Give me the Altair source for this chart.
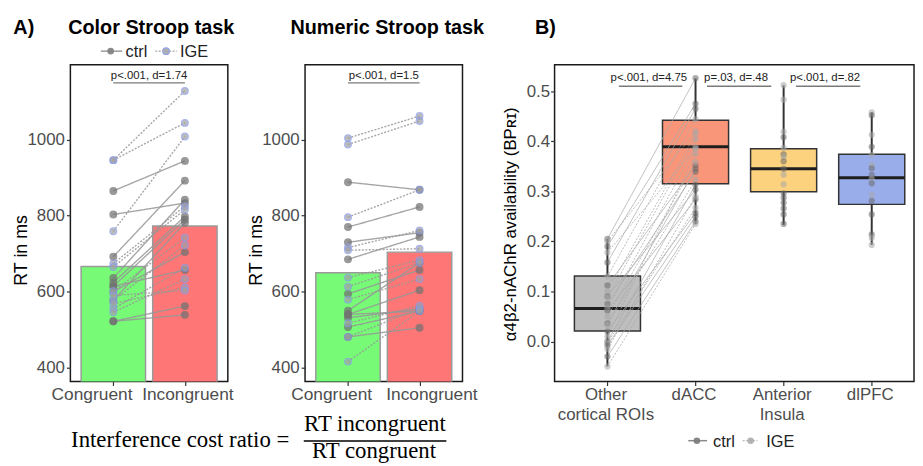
import json
import altair as alt
import pandas as pd

# ---------------- data : panel A ----------------
conds = ["Congruent", "Incongruent"]
groups = ["ctrl", "IGE"]

color_means = [666, 773]
color_ctrl_cong = [865, 803, 692, 636, 624, 614, 577, 600, 614, 522, 522]
color_ctrl_incong = [944, 833, 892, 842, 798, 790, 781, 704, 657, 562, 539]
color_ige_cong = [946, 946, 759, 674, 665, 601, 577, 555, 546, 568, 590]
color_ige_incong = [1128, 1044, 1008, 825, 816, 742, 722, 663, 633, 611, 603]
color_test = ["p<.001, d=1.74"]

numeric_means = [650, 704]
numeric_ctrl_cong = [888, 770, 730, 685, 594, 550, 540, 531, 507, 481, 540]
numeric_ctrl_incong = [868, 823, 755, 744, 657, 676, 604, 555, 549, 505, 549]
numeric_ige_cong = [1004, 987, 796, 716, 709, 637, 613, 579, 517, 481, 416]
numeric_ige_incong = [1062, 1049, 868, 761, 713, 683, 676, 633, 563, 555, 549]
numeric_test = ["p<.001, d=1.5"]

test_a_from = [1]
test_a_to = [2]
test_a_line = [1149]
test_a_text = [1159]

# ---------------- data : panel B ----------------
rois = ["Other\ncortical ROIs", "dACC", "Anterior\nInsula", "dlPFC"]
box_low = [-0.050, 0.235, 0.233, 0.193]
box_q1 = [0.021, 0.315, 0.299, 0.274]
box_median = [0.066, 0.389, 0.345, 0.327]
box_q3 = [0.131, 0.442, 0.385, 0.374]
box_high = [0.205, 0.526, 0.512, 0.458]

pair_group = ["ctrl", "IGE"] * 12
other_vals = [0.205, 0.200, 0.190, 0.178, 0.158, 0.130, 0.112, 0.100, 0.090, 0.088, 0.075, 0.066,
              0.062, 0.050, 0.036, 0.033, 0.020, 0.010, 0.000, -0.003, -0.008, -0.015, -0.030, -0.050]
dacc_vals = [0.526, 0.420, 0.475, 0.385, 0.465, 0.444, 0.352, 0.414, 0.303, 0.404, 0.339, 0.388,
             0.284, 0.359, 0.345, 0.323, 0.257, 0.375, 0.313, 0.267, 0.250, 0.290, 0.240, 0.235]
insula_vals = [0.512, 0.483, 0.419, 0.408, 0.387, 0.374, 0.369, 0.360, 0.345, 0.333, 0.314, 0.296,
               0.287, 0.277, 0.266, 0.254, 0.235]
insula_group = ["IGE", "IGE", "IGE", "ctrl", "IGE", "ctrl", "IGE", "ctrl", "ctrl", "IGE", "IGE", "ctrl",
                "ctrl", "ctrl", "ctrl", "ctrl", "ctrl"]
dlpfc_vals = [0.458, 0.452, 0.413, 0.389, 0.373, 0.353, 0.346, 0.333, 0.325, 0.316, 0.293, 0.281,
              0.254, 0.214, 0.207, 0.193]
dlpfc_group = ["IGE", "ctrl", "IGE", "ctrl", "IGE", "IGE", "ctrl", "ctrl", "IGE", "ctrl", "IGE", "ctrl",
               "ctrl", "ctrl", "IGE", "IGE"]

roi_tests = ["p<.001, d=4.75", "p=.03, d=.48", "p<.001, d=.82"]
test_b_from = [1.13, 2.13, 3.14]
test_b_to = [1.85, 2.86, 3.87]
test_b_mid = [1.47, 2.46, 3.47]
test_b_line = [0.510, 0.510, 0.510]
test_b_text = [0.521, 0.521, 0.521]

# ---------------- styles ----------------
FONT = "Liberation Sans"
SERIF = "Liberation Serif"
TICK = "#4d4d4d"
DARK = "#333333"
bar_palette = ["#77FB77", "#FF7676"]
roi_palette = ["#BEBEBE", "#F9967A", "#FDD27E", "#9AADEB"]

one = pd.DataFrame({"k": [0]})


def fixed_text(txt, x, y, size, weight="normal", align="left", font=FONT, color="black"):
    return alt.Chart(one).mark_text(text=txt, fontSize=size, fontWeight=weight, align=align,
                                    baseline="alphabetic", font=font, color=color).encode(
        x=alt.value(x), y=alt.value(y))


def fixed_rule(x1, x2, y, color, width, dash=None):
    kw = dict(color=color, strokeWidth=width)
    if dash:
        kw["strokeDash"] = dash
    return alt.Chart(one).mark_rule(**kw).encode(x=alt.value(x1), x2=alt.value(x2), y=alt.value(y))


def fixed_dot(x, y, fill, stroke=None, size=44, opacity=0.9):
    kw = dict(fill=fill, size=size, opacity=opacity)
    if stroke:
        kw.update(stroke=stroke, strokeWidth=1.2)
    return alt.Chart(one).mark_circle(**kw).encode(x=alt.value(x), y=alt.value(y))


def subjects_df(cc, ci, ic, ii):
    rows = []
    for g, cs, iss in (("ctrl", cc, ci), ("IGE", ic, ii)):
        for k, (c, i) in enumerate(zip(cs, iss)):
            sid = f"{g}{k}"
            rows.append({"subj": sid, "group": g, "cond": conds[0], "rt": c})
            rows.append({"subj": sid, "group": g, "cond": conds[1], "rt": i})
    return pd.DataFrame(rows)


XA = alt.Scale(domain=[0.4, 2.6], nice=False, zero=False)
YA = alt.Scale(domain=[363.5, 1197], nice=False, zero=False)
dash_scale = alt.Scale(domain=groups, range=[[1, 0], [2, 1.5]])


def panel_a(means, cc, ci, ic, ii, test, title, title_x, offs, extras):
    cond_idx = f"indexof({json.dumps(conds)}, datum.cond) + 1"
    ax_x = alt.Axis(values=[1, 2], labelExpr=f"{json.dumps(conds)}[datum.value - 1]", title=None,
                    grid=False, domain=False, tickSize=4, tickColor=DARK, tickWidth=1.2,
                    labelFontSize=17.5, labelColor=TICK, labelPadding=0,
                    labelOffset={"condition": {"test": "datum.value == 1", "value": offs[0]},
                                 "value": offs[1]})
    ax_y = alt.Axis(values=[400, 600, 800, 1000], format="d", title="RT in ms", grid=False,
                    domain=False, tickSize=4, tickColor=DARK, tickWidth=1.2, labelFontSize=17,
                    labelColor=TICK, labelPadding=2, titleFontSize=18, titleFontWeight="normal",
                    titleColor="black", titleX=-44.3, titleY=187, titleBaseline="alphabetic",
                    titleAngle=270)
    X = lambda f: alt.X(f, scale=XA, axis=ax_x, title=None)
    Y = lambda f: alt.Y(f, scale=YA, axis=ax_y, title="RT in ms")

    bars_df = pd.DataFrame({"cond": conds, "rt": means})
    sub = subjects_df(cc, ci, ic, ii)
    ann = pd.DataFrame({"label": test, "x1": test_a_from, "x2": test_a_to,
                        "yl": test_a_line, "yt": test_a_text})

    bars = alt.Chart(bars_df).transform_calculate(pos=cond_idx).transform_calculate(
        x0="datum.pos - 0.45", x1="datum.pos + 0.45").mark_bar(
        clip=True, stroke="#9a9a9a", strokeWidth=1.5).encode(
        x=X("x0:Q"), x2="x1:Q", y=Y("rt:Q"), y2=alt.datum(0),
        color=alt.Color("cond:N", scale=alt.Scale(domain=conds, range=bar_palette), legend=None))

    lines = alt.Chart(sub).transform_calculate(pos=cond_idx).mark_line(
        color="#979797", strokeWidth=1.4, opacity=0.85).encode(
        x=X("pos:Q"), y=Y("rt:Q"), detail="subj:N",
        strokeDash=alt.StrokeDash("group:N", scale=dash_scale, legend=None))

    pts = alt.Chart(sub).transform_calculate(pos=cond_idx).mark_circle(
        size=46, opacity=0.72, strokeWidth=1.2).encode(
        x=X("pos:Q"), y=Y("rt:Q"),
        fill=alt.Fill("group:N", scale=alt.Scale(domain=groups, range=["#727272", "#a2a2a2"]), legend=None),
        stroke=alt.Stroke("group:N", scale=alt.Scale(domain=groups, range=["#727272", "#8a9be8"]), legend=None))

    ann_rule = alt.Chart(ann).mark_rule(color="#7a7a7a", strokeWidth=1.3).encode(
        x=X("x1:Q"), x2="x2:Q", y=Y("yl:Q"))
    ann_text = alt.Chart(ann).transform_calculate(xm="(datum.x1 + datum.x2) / 2").mark_text(
        fontSize=11.5, color="#222222", baseline="alphabetic").encode(
        x=X("xm:Q"), y=Y("yt:Q"), text="label:N")

    ttl = fixed_text(title, title_x, -31.3, 20, weight="bold", align="center")

    return alt.layer(bars, lines, pts, ann_rule, ann_text, ttl, *extras).properties(
        width=159, height=320, view=alt.ViewBackground(stroke="#1a1a1a", strokeWidth=1.5))


legend_a = [
    fixed_rule(30.7, 52.4, -13.7, "#9b9b9b", 1.5),
    fixed_dot(40.7, -13.7, "#808080"),
    fixed_text("ctrl", 55.7, -7.7, 16.5, color="#222222"),
    fixed_rule(85.7, 107.4, -13.7, "#a5a5a5", 1.2, dash=[2, 1.5]),
    fixed_dot(96.7, -13.7, "#a8a8a8", stroke="#8a9be8"),
    fixed_text("IGE", 110.7, -7.7, 16.5, color="#222222"),
]
formula = [
    fixed_text("Interference cost ratio =", 0.7, 386, 23, font=SERIF),
    fixed_text("RT incongruent", 307.6, 370, 23, align="center", font=SERIF),
    fixed_rule(235.7, 379.7, 380, "black", 1.5),
    fixed_text("RT congruent", 306.6, 397.5, 23, align="center", font=SERIF),
]
anchor = alt.Chart(one).mark_rect(opacity=0).encode(
    x=alt.value(-61.3), x2=alt.value(-60.3), y=alt.value(-54), y2=alt.value(-53))
label_a = fixed_text("A)", -57.6, -31.3, 20, weight="bold")

panel1 = panel_a(color_means, color_ctrl_cong, color_ctrl_incong, color_ige_cong, color_ige_incong,
                 color_test, "Color Stroop task", 81.7, (-22, 2.5),
                 legend_a + formula + [anchor, label_a])
panel2 = panel_a(numeric_means, numeric_ctrl_cong, numeric_ctrl_incong, numeric_ige_cong,
                 numeric_ige_incong, numeric_test, "Numeric Stroop task", 83, (-17, 12), [])

# ---------------- panel B ----------------
XB = alt.Scale(domain=[0.4, 4.48], nice=False, zero=False)
YB = alt.Scale(domain=[-0.08, 0.553], nice=False, zero=False)
roi_idx = f"indexof({json.dumps(rois)}, datum.roi) + 1"
ax_xb = alt.Axis(values=[1, 2, 3, 4], labelExpr=f"split({json.dumps(rois)}[datum.value - 1], '\\n')",
                 title=None, grid=False, domain=False, tickSize=4, tickColor=DARK, tickWidth=1.2,
                 labelFontSize=17, labelColor=TICK, labelPadding=1, labelLineHeight=20, labelOffset=-2)
ax_yb = alt.Axis(values=[0, 0.1, 0.2, 0.3, 0.4, 0.5], format=".1f", grid=False, domain=False,
                 tickSize=4, tickColor=DARK, tickWidth=1.2, labelFontSize=17, labelColor=TICK,
                 labelPadding=1, titleFontSize=17, titleFontWeight="normal", titleColor="black",
                 titleX=-39.7, titleY=160.7, titleBaseline="alphabetic", titleAngle=270)
YTITLE = "α4β2-nAChR availability (BPʀɪ)"
XBf = lambda f: alt.X(f, scale=XB, axis=ax_xb, title=None)
YBf = lambda f: alt.Y(f, scale=YB, axis=ax_yb, title=YTITLE)

box_df = pd.DataFrame({"roi": rois, "low": box_low, "q1": box_q1, "med": box_median,
                       "q3": box_q3, "high": box_high})
box_base = alt.Chart(box_df).transform_calculate(pos=roi_idx).transform_calculate(
    x0="datum.pos - 0.375", x1="datum.pos + 0.375")

whisk = box_base.mark_rule(color=DARK, strokeWidth=2).encode(x=XBf("pos:Q"), y=YBf("low:Q"), y2="high:Q")
boxes = box_base.mark_bar(stroke=DARK, strokeWidth=1.5).encode(
    x=XBf("x0:Q"), x2="x1:Q", y=YBf("q1:Q"), y2="q3:Q",
    fill=alt.Fill("roi:N", scale=alt.Scale(domain=rois, range=roi_palette), legend=None))
medians = box_base.mark_rule(color="#1e1e1e", strokeWidth=3).encode(
    x=XBf("x0:Q"), x2="x1:Q", y=YBf("med:Q"))

pair_rows = []
for k, (g, o, d) in enumerate(zip(pair_group, other_vals, dacc_vals)):
    pair_rows.append({"subj": f"s{k}", "group": g, "roi": rois[0], "val": o})
    pair_rows.append({"subj": f"s{k}", "group": g, "roi": rois[1], "val": d})
pairs_df = pd.DataFrame(pair_rows)
single_rows = ([{"subj": f"a{k}", "group": g, "roi": rois[2], "val": v}
                for k, (g, v) in enumerate(zip(insula_group, insula_vals))] +
               [{"subj": f"p{k}", "group": g, "roi": rois[3], "val": v}
                for k, (g, v) in enumerate(zip(dlpfc_group, dlpfc_vals))])
points_df = pd.concat([pairs_df, pd.DataFrame(single_rows)], ignore_index=True)

b_lines = alt.Chart(pairs_df).transform_calculate(pos=roi_idx).mark_line(
    color="#a9a9a9", strokeWidth=1, opacity=0.8).encode(
    x=XBf("pos:Q"), y=YBf("val:Q"), detail="subj:N",
    strokeDash=alt.StrokeDash("group:N", scale=dash_scale, legend=None))
b_pts = alt.Chart(points_df).transform_calculate(pos=roi_idx).mark_circle(size=40, opacity=0.55).encode(
    x=XBf("pos:Q"), y=YBf("val:Q"),
    color=alt.Color("group:N", scale=alt.Scale(domain=groups, range=["#6a6a6a", "#a8a8a8"]), legend=None))

ann_b = pd.DataFrame({"label": roi_tests, "x1": test_b_from, "x2": test_b_to, "xm": test_b_mid,
                      "yl": test_b_line, "yt": test_b_text})
b_ann_rule = alt.Chart(ann_b).mark_rule(color="#7a7a7a", strokeWidth=1.3).encode(
    x=XBf("x1:Q"), x2="x2:Q", y=YBf("yl:Q"))
b_ann_text = alt.Chart(ann_b).mark_text(fontSize=11.5, color="#222222", baseline="alphabetic").encode(
    x=XBf("xm:Q"), y=YBf("yt:Q"), text="label:N")

legend_b = [
    fixed_rule(135, 154, 379.7, "#8a8a8a", 1.5),
    fixed_dot(143.7, 379.7, "#7a7a7a"),
    fixed_text("ctrl", 160, 386.3, 16.5, color="#222222"),
    fixed_rule(190, 205, 379.7, "#bbbbbb", 1.2, dash=[2, 1.5]),
    fixed_dot(198, 379.7, "#ababab"),
    fixed_text("IGE", 213.7, 386.3, 16.5, color="#222222"),
]
label_b = fixed_text("B)", -19.7, -31.3, 20, weight="bold")

panel3 = alt.layer(whisk, boxes, medians, b_lines, b_pts, b_ann_rule, b_ann_text, label_b,
                   *legend_b).properties(
    width=363, height=320, view=alt.ViewBackground(stroke="#1a1a1a", strokeWidth=1.5))


def spacer(w):
    return alt.Chart(one).mark_rect(opacity=0).encode(
        x=alt.value(0), x2=alt.value(1), y=alt.value(0), y2=alt.value(1)).properties(
        width=w, height=320)


chart = alt.hconcat(panel1, spacer(78), panel2, spacer(93), panel3, spacing=0, bounds="flush").resolve_scale(
    color="independent", fill="independent", stroke="independent", strokeDash="independent").properties(
    padding=0).configure(font=FONT).configure_view(strokeWidth=0).configure_axis(
    labelFont=FONT, titleFont=FONT).configure_text(font=FONT)

chart.save("out.html", embed_options={"renderer": "svg", "actions": False})
